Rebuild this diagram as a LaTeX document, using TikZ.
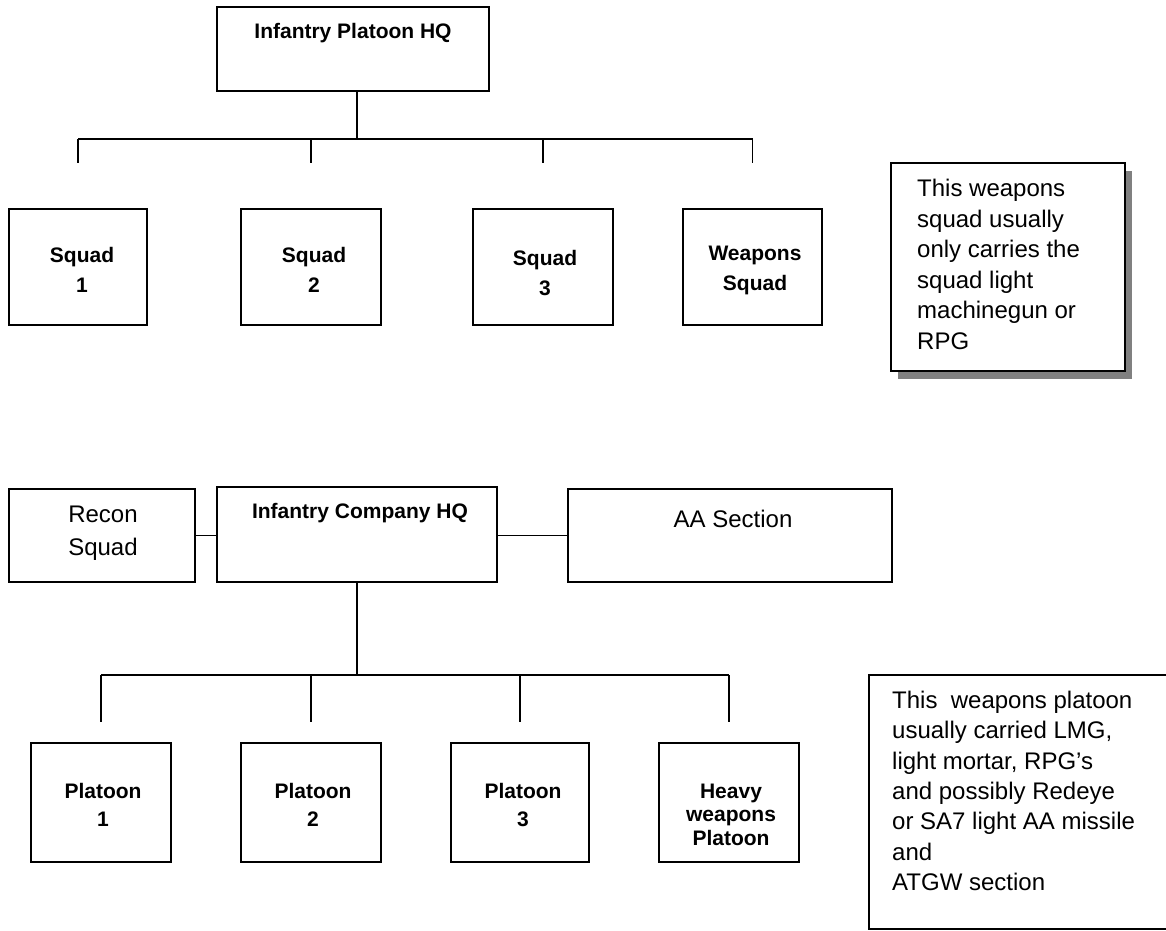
\documentclass[tikz,border=0pt]{standalone}
\usepackage{fontspec}
\setmainfont{Liberation Sans}
\usetikzlibrary{shadows}
\begin{document}
\begin{tikzpicture}[x=1pt,y=-1pt,
  box/.style={draw, line width=1.5pt, inner sep=0pt, outer sep=0pt},
  conn/.style={line width=1.5pt},
  blab/.style={font=\bfseries\fontsize{21}{30}\selectfont, align=center, inner sep=0pt},
  rlab/.style={font=\fontsize{24}{33}\selectfont, align=center, inner sep=0pt},
  notetext/.style={font=\fontsize{24}{30.6}\selectfont, align=left, inner sep=0pt, anchor=north west}]
\useasboundingbox (0,0) rectangle (1166,930);

% ---------- top chart ----------
\node[box, minimum width=272pt, minimum height=84pt] (phq) at (353,49) {};
\node[blab] (phqt) at (353,33) {Infantry Platoon HQ};

\node[box, minimum width=138pt, minimum height=116pt] (s1) at (78,267) {};
\node[box, minimum width=140pt, minimum height=116pt] (s2) at (311,267) {};
\node[box, minimum width=140pt, minimum height=116pt] (s3) at (543,267) {};
\node[box, minimum width=139pt, minimum height=116pt] (s4) at (752.5,267) {};
\node[blab] (s1t) at (82,270) {Squad\\1};
\node[blab] (s2t) at (314,270) {Squad\\2};
\node[blab] (s3t) at (545,273) {Squad\\3};
\node[blab] (s4t) at (755,270) {Weapons\\Squad};

\coordinate (tbar) at (357,139);
\draw[conn] (tbar |- phq.south) -- (tbar);
\draw[conn] (s1.north |- tbar) -- (s4.north |- tbar);
\foreach \s in {s1,s2,s3,s4}
  \draw[conn] (\s.north |- tbar) -- ([yshift=46pt]\s.north);

\node[box, fill=white, minimum width=234pt, minimum height=208pt,
      drop shadow={shadow xshift=7pt, shadow yshift=-8pt, fill=black!50, opacity=1}] (n1) at (1008,267) {};
\node[notetext] (n1t) at (917,179) {This weapons\\squad usually\\only carries the\\squad light\\machinegun or\\RPG};

% ---------- bottom chart ----------
\node[box, minimum width=186pt, minimum height=93pt] (recon) at (102,535.5) {};
\node[rlab] (recont) at (103,533) {Recon\\Squad};
\node[box, minimum width=280pt, minimum height=95pt] (chq) at (357,534.5) {};
\node[blab] (chqt) at (360,513) {Infantry Company HQ};
\node[box, minimum width=324pt, minimum height=93pt] (aa) at (730,535.5) {};
\node[rlab] (aat) at (733,519) {AA Section};

\draw[conn] (recon.east) -- (recon.east -| chq.west);
\draw[conn] (chq.east |- aa.west) -- (aa.west);

\node[box, minimum width=140pt, minimum height=119pt] (p1) at (101,802.5) {};
\node[box, minimum width=140pt, minimum height=119pt] (p2) at (311,802.5) {};
\node[box, minimum width=138pt, minimum height=119pt] (p3) at (520,802.5) {};
\node[box, minimum width=140pt, minimum height=119pt] (hv) at (729,802.5) {};
\node[blab, font=\bfseries\fontsize{21}{28}\selectfont] (p1t) at (103,805) {Platoon\\1};
\node[blab, font=\bfseries\fontsize{21}{28}\selectfont] (p2t) at (313,805) {Platoon\\2};
\node[blab, font=\bfseries\fontsize{21}{28}\selectfont] (p3t) at (523,805) {Platoon\\3};
\node[blab, font=\bfseries\fontsize{21}{23.5}\selectfont] (hvt) at (731,814.5) {Heavy\\weapons\\Platoon};

\coordinate (cbar) at (357,675);
\draw[conn] (chq.south) -- (cbar);
\draw[conn] (p1.north |- cbar) -- (hv.north |- cbar);
\foreach \p in {p1,p2,p3,hv}
  \draw[conn] (\p.north |- cbar) -- ([yshift=21pt]\p.north);

\node[box, minimum width=311pt, minimum height=254pt] (n2) at (1024.5,802) {};
\node[notetext, font=\fontsize{24}{30.3}\selectfont] (n2t) at (892,691) {This~ weapons platoon\\usually carried LMG,\\light mortar, RPG’s\\and possibly Redeye\\or SA7 light AA missile\\and\\ATGW section};
\end{tikzpicture}
\end{document}
